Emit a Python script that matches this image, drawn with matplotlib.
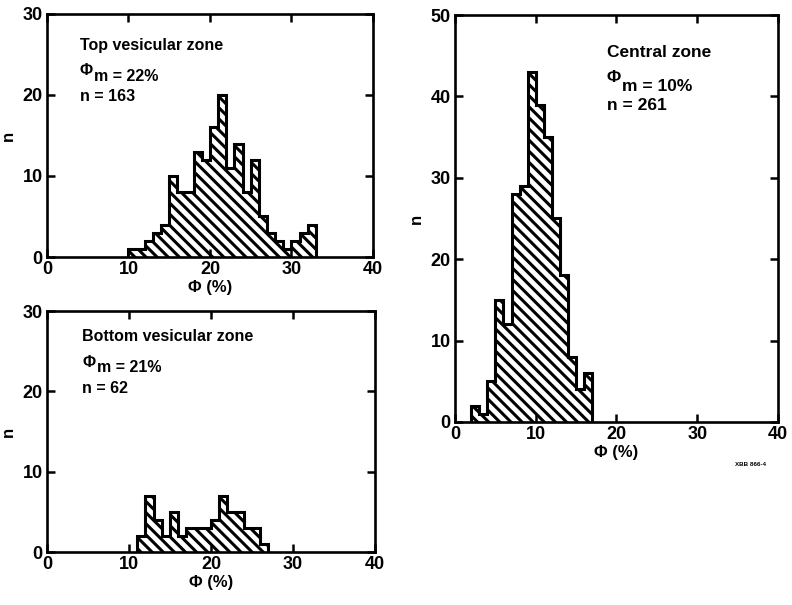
import numpy as np
import matplotlib
matplotlib.use('Agg')
import matplotlib.pyplot as plt

plt.rcParams['font.family'] = ['Liberation Sans', 'DejaVu Sans']
plt.rcParams['font.weight'] = 'bold'
plt.rcParams['hatch.linewidth'] = 2.2

# porosity bins (1 % wide) and counts
top_edges = np.arange(10, 34)
top_counts = [1, 1, 2, 3, 4, 10, 8, 8, 13, 12, 16, 20, 11, 14, 8, 12, 5, 3, 2, 1, 2, 3, 4]

bot_edges = np.arange(11, 28)
bot_counts = [2, 7, 4, 2, 5, 2, 3, 3, 3, 4, 7, 5, 5, 3, 3, 1]

cen_edges = np.arange(2, 18)
cen_counts = [2, 1, 5, 15, 12, 28, 29, 43, 39, 35, 25, 18, 8, 4, 6]

panels = [
    # name, phi_m, n, edges, counts, ymax, rect, text pos (axes frac), font size
    ('Top vesicular zone', '22%', '163', top_edges, top_counts, 30,
     [0.0593, 0.5752, 0.4116, 0.4017], (0.10, 0.872, 0.118, 0.045), 11.5),
    ('Bottom vesicular zone', '21%', '62', bot_edges, bot_counts, 30,
     [0.0593, 0.0876, 0.4141, 0.3983], (0.107, 0.895, 0.12, 0.045), 11.5),
    ('Central zone', '10%', '261', cen_edges, cen_counts, 50,
     [0.5745, 0.3025, 0.4078, 0.6727], (0.47, 0.907, 0.072, 0.046), 12.5),
]

fig = plt.figure(figsize=(7.92, 6.05), dpi=100)

for name, phim, n, edges, counts, ymax, rect, tpos, fs in panels:
    ax = fig.add_axes(rect)
    ax.stairs(counts, edges, fill=True, facecolor='white', edgecolor='black',
              hatch='\\\\\\', linewidth=0)
    ax.stairs(counts, edges, fill=False, color='black', linewidth=2.2, baseline=0)

    ax.set_xlim(0, 40)
    ax.set_ylim(0, ymax)
    ax.set_xticks([0, 10, 20, 30, 40])
    ax.set_yticks(np.arange(0, ymax + 1, 10))
    ax.tick_params(direction='in', length=6, width=1.8, top=True, right=True,
                   labelsize=13, pad=3)
    for s in ax.spines.values():
        s.set_linewidth(1.9)
    for lab in ax.get_xticklabels() + ax.get_yticklabels():
        lab.set_fontweight('bold')
    ax.set_xlabel('Φ (%)', fontsize=12, fontweight='bold', labelpad=1)
    ax.set_ylabel('n', fontsize=12, fontweight='bold', labelpad=5)

    x0, y0, dy, dx = tpos
    ax.text(x0, y0, name, transform=ax.transAxes, fontsize=fs,
            fontweight='bold', va='center', ha='left')
    ax.text(x0, y0 - dy + 0.012, 'Φ', transform=ax.transAxes, fontsize=fs,
            fontweight='bold', va='center', ha='left')
    ax.text(x0 + dx, y0 - dy - 0.01, 'm = ' + phim, transform=ax.transAxes,
            fontsize=fs, fontweight='bold', va='center', ha='left')
    ax.text(x0, y0 - 1.8 * dy, 'n = ' + n, transform=ax.transAxes, fontsize=fs,
            fontweight='bold', va='center', ha='left')

fig.text(0.947, 0.232, 'XBB 866-4', fontsize=4.5, fontweight='bold',
         ha='center', va='center')

plt.savefig('out.png', dpi=100)
